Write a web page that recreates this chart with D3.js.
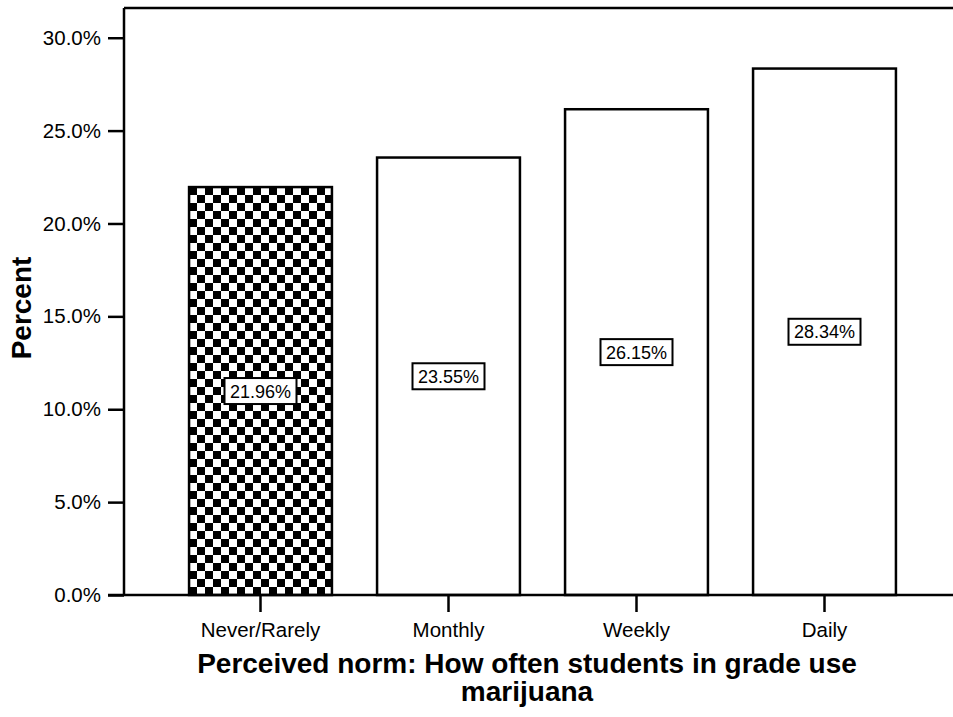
<!DOCTYPE html>
<meta charset="utf-8">
<style>
 body { margin: 0; background: #fff; }
 svg { font-family: Arial, "Liberation Sans", sans-serif; display: block; }
 .bar { stroke: #000; stroke-width: 2.5px; }
 .tick text { font-size: 20.5px; fill: #000; }
 .axis path, .axis line { stroke: #000; stroke-width: 2.5px; }
 .title { font-size: 28px; font-weight: bold; }
 .lbl rect { fill: #fff; stroke: #000; stroke-width: 2px; }
 .lbl text { font-size: 18px; }
</style>

<svg id="chart"></svg>

<script src="https://cdn.jsdelivr.net/npm/d3@7"></script>
<script>

 var categories = ["Never/Rarely", "Monthly", "Weekly", "Daily"];
 var percents = [21.96, 23.55, 26.15, 28.34];
 var yTicks = [0, 5, 10, 15, 20, 25, 30];
 var highlighted = ["Never/Rarely"];

 var W = 953, H = 717;
 var plotLeft = 124, plotTop = 8, plotBottom = 595;

 var svg = d3.select("#chart").attr("width", W).attr("height", H);

 // checkerboard fill for the reference category
 var pat = svg.append("defs").append("pattern")
     .attr("id", "checks").attr("patternUnits", "userSpaceOnUse")
     .attr("width", 16).attr("height", 16).attr("x", 189).attr("y", 187);
 pat.append("rect").attr("width", 16).attr("height", 16).attr("fill", "#fff");
 pat.append("rect").attr("width", 8).attr("height", 8).attr("fill", "#000");
 pat.append("rect").attr("x", 8).attr("y", 8).attr("width", 8).attr("height", 8).attr("fill", "#000");

 var x = d3.scaleBand().domain(categories).range([166.5, 918.5])
     .paddingInner(0.24).paddingOuter(0.12);
 var y = d3.scaleLinear().domain([0, 31.6]).range([plotBottom, plotTop]);

 // frame: top line
 svg.append("line").attr("x1", plotLeft).attr("x2", W).attr("y1", plotTop).attr("y2", plotTop)
    .attr("stroke", "#000").attr("stroke-width", 2.5);

 svg.selectAll(".bar").data(categories).enter().append("rect")
    .attr("class", "bar")
    .attr("x", function(d) { return x(d); })
    .attr("width", x.bandwidth())
    .attr("y", function(d, i) { return y(percents[i]); })
    .attr("height", function(d, i) { return plotBottom - y(percents[i]); })
    .attr("fill", function(d) { return highlighted.indexOf(d) >= 0 ? "url(#checks)" : "#fff"; });

 var yAxis = svg.append("g").attr("class", "axis")
    .attr("transform", "translate(" + plotLeft + ",0)")
    .call(d3.axisLeft(y).tickValues(yTicks).tickSize(16).tickPadding(7)
          .tickFormat(function(d) { return d.toFixed(1) + "%"; }));
 yAxis.select(".domain").remove();
 svg.append("line").attr("x1", plotLeft).attr("x2", plotLeft).attr("y1", plotTop).attr("y2", plotBottom)
    .attr("stroke", "#000").attr("stroke-width", 2.5);

 var xAxis = svg.append("g").attr("class", "axis")
    .attr("transform", "translate(0," + plotBottom + ")")
    .call(d3.axisBottom(x).tickSize(17).tickPadding(10));
 xAxis.select(".domain").remove();
 svg.append("line").attr("x1", 108).attr("x2", W).attr("y1", plotBottom).attr("y2", plotBottom)
    .attr("stroke", "#000").attr("stroke-width", 2.5);

 // value labels in boxes, centred in each bar
 var lbl = svg.selectAll(".lbl").data(categories).enter().append("g")
    .attr("class", "lbl")
    .attr("transform", function(d, i) {
        return "translate(" + (x(d) + x.bandwidth() / 2) + "," + y(percents[i] / 2) + ")";
    });
 lbl.append("rect").attr("x", -36).attr("y", -13).attr("width", 72).attr("height", 26);
 lbl.append("text").attr("text-anchor", "middle").attr("dy", "0.36em")
    .text(function(d, i) { return percents[i].toFixed(2) + "%"; });

 svg.append("text").attr("class", "title")
    .attr("transform", "translate(31,308) rotate(-90)")
    .attr("text-anchor", "middle").text("Percent");

 var xt = svg.append("text").attr("class", "title").attr("text-anchor", "middle");
 xt.append("tspan").attr("x", 527).attr("y", 673).text("Perceived norm: How often students in grade use");
 xt.append("tspan").attr("x", 527).attr("y", 701).text("marijuana");

</script>
